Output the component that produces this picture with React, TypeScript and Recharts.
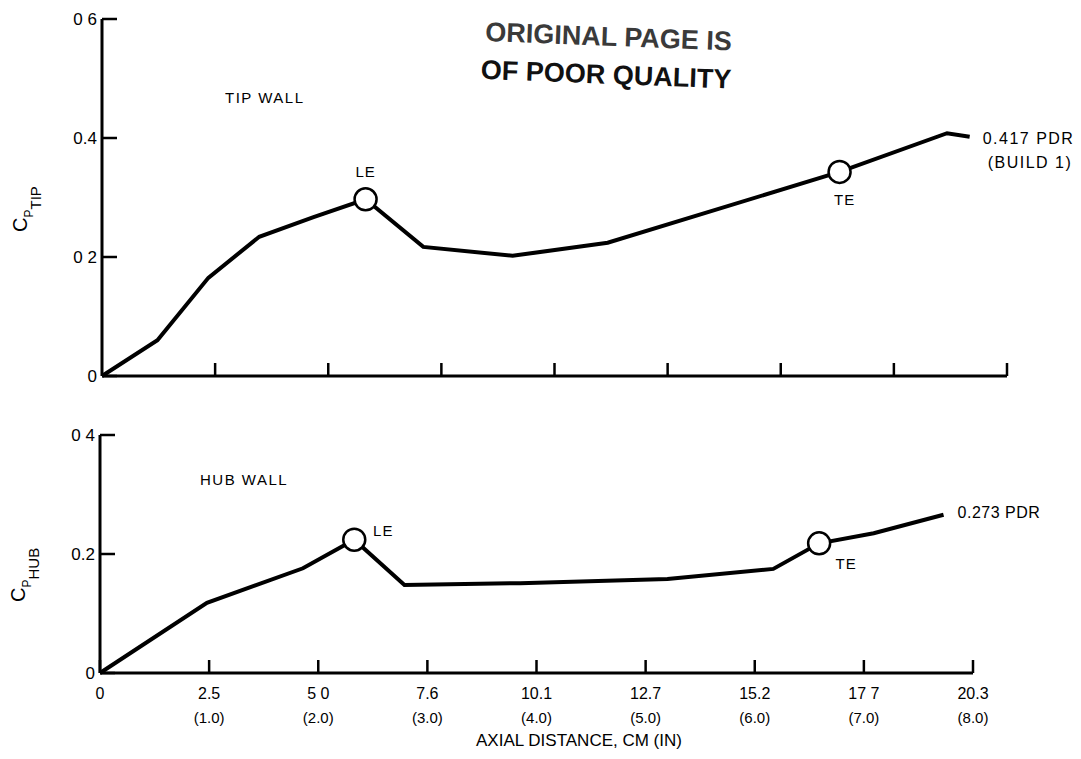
import React from 'react';
import { LineChart, Line, XAxis, YAxis, Customized } from 'recharts';

// axial station (in) and static pressure rise coefficient, tip wall
const TIP_X = [0, 0.49, 0.94, 1.39, 1.87, 2.33, 2.84, 3.63, 4.47, 6.52, 7.47, 7.67];
const TIP_CP = [0, 0.06, 0.165, 0.234, 0.267, 0.297, 0.217, 0.202, 0.224, 0.343, 0.408, 0.402];
const TIP_MARKS = ['', '', '', '', '', 'LE', '', '', '', 'TE', '', ''];

// hub wall
const HUB_X = [0, 0.98, 1.86, 2.33, 2.79, 3.85, 5.2, 6.17, 6.59, 7.09, 7.73];
const HUB_CP = [0, 0.118, 0.176, 0.224, 0.148, 0.151, 0.158, 0.175, 0.218, 0.235, 0.266];
const HUB_MARKS = ['', '', '', 'LE', '', '', '', '', 'TE', '', ''];

const X_TICKS = [0, 1, 2, 3, 4, 5, 6, 7, 8];
const CM_LABELS = ['0', '2.5', '5 0', '7.6', '10.1', '12.7', '15.2', '17 7', '20.3'];
const IN_LABELS = ['', '(1.0)', '(2.0)', '(3.0)', '(4.0)', '(5.0)', '(6.0)', '(7.0)', '(8.0)'];

const TIP_Y_TICKS = [0, 0.2, 0.4, 0.6];
const TIP_Y_LABELS = ['0', '0 2', '0.4', '0 6'];
const HUB_Y_TICKS = [0, 0.2, 0.4];
const HUB_Y_LABELS = ['0', '0.2', '0 4'];

const TIP_END = ['0.417 PDR', '(BUILD 1)'];
const HUB_END = ['0.273 PDR'];

const FONT = '"Liberation Sans", Arial, Helvetica, sans-serif';

// plot frames (px inside each svg)
const TIP_FRAME = { left: 102, top: 19, bottom: 376, right: 1007 };
const HUB_FRAME = { left: 100, top: 35, bottom: 273, right: 973 };

const tipData = TIP_X.map((x, i) => ({ x, cp: TIP_CP[i], mark: TIP_MARKS[i] }));
const hubData = HUB_X.map((x, i) => ({ x, cp: HUB_CP[i], mark: HUB_MARKS[i] }));

type Offsets = Record<string, [number, number]>;

// open circles at LE / TE plus the PDR note at the end of each curve
const makeDot = (offsets: Offsets, endLines: string[], endPos: [number, number][], last: number, spacing: number) =>
  (props: any) => {
    const { cx, cy, index, payload } = props;
    const parts: React.ReactNode[] = [];
    if (payload.mark) {
      const [dx, dy] = offsets[payload.mark];
      parts.push(<circle key="c" cx={cx} cy={cy} r={11} fill="#fff" stroke="#000" strokeWidth={2.5} />);
      parts.push(
        <text key="t" x={cx + dx} y={cy + dy} textAnchor="middle" dominantBaseline="central"
          fontFamily={FONT} fontSize={15} letterSpacing={1} fill="#000">
          {payload.mark}
        </text>
      );
    }
    if (index === last) {
      endLines.forEach((line, i) => {
        parts.push(
          <text key={`e${i}`} x={cx + endPos[i][0]} y={cy + endPos[i][1]} dominantBaseline="central"
            fontFamily={FONT} fontSize={16} letterSpacing={spacing} fill="#000" style={{ whiteSpace: 'pre' }}>
            {line}
          </text>
        );
      });
    }
    return <g key={`dot-${index}`}>{parts}</g>;
  };

const tipDot = makeDot({ LE: [0, -28], TE: [5, 28] }, TIP_END, [[13, 2], [18, 26]], TIP_X.length - 1, 1.5);
const hubDot = makeDot({ LE: [29, -9], TE: [27, 20] }, HUB_END, [[14, -2]], HUB_X.length - 1, 0.5);

// ticks point into the plot; labels sit outside the frame
const makeYTick = (ticks: number[], labels: string[], axisX: number) => (props: any) => {
  const { y, payload } = props;
  const i = ticks.indexOf(payload.value);
  return (
    <g>
      <line x1={axisX} y1={y} x2={axisX + 15} y2={y} stroke="#000" strokeWidth={2.5} />
      <text x={axisX - 5} y={y} textAnchor="end" dominantBaseline="central" fontFamily={FONT} fontSize={17} fill="#000">
        {labels[i]}
      </text>
    </g>
  );
};

const TopXTick = (props: any) => {
  const { x } = props;
  const y = TIP_FRAME.bottom;
  return <line x1={x} y1={y} x2={x} y2={y - 13} stroke="#000" strokeWidth={2.5} />;
};

// two-line tick label: cm on top, inches in brackets below
const DistanceTick = (props: any) => {
  const { x, index } = props;
  const y = HUB_FRAME.bottom;
  return (
    <g>
      <line x1={x} y1={y} x2={x} y2={y - 13} stroke="#000" strokeWidth={2.5} />
      <text x={x} y={y + 20} textAnchor="middle" dominantBaseline="central" fontFamily={FONT} fontSize={16} fill="#000">
        {CM_LABELS[index]}
      </text>
      <text x={x} y={y + 44} textAnchor="middle" dominantBaseline="central" fontFamily={FONT} fontSize={15} fill="#000">
        {IN_LABELS[index]}
      </text>
    </g>
  );
};

const CpTitle = ({ x, y, sub }: { x: number; y: number; sub: string }) => (
  <text transform={`translate(${x},${y}) rotate(-90)`} fontFamily={FONT} fill="#000">
    <tspan fontSize={20}>C</tspan>
    <tspan fontSize={12} dy={6}>P</tspan>
    <tspan fontSize={15} dy={8}>{sub}</tspan>
  </text>
);

const TipNotes = () => (
  <g>
    <CpTitle x={27} y={232} sub="TIP" />
    <text x={225} y={97} dominantBaseline="central" fontFamily={FONT} fontSize={15} letterSpacing={1.5} fill="#000">
      TIP WALL
    </text>
    <g transform="rotate(2.2, 485, 43)" fontFamily={FONT} fontWeight="bold" fontSize={27}>
      <text x={485} y={41} fill="#3a3a3a">ORIGINAL PAGE IS</text>
      <text x={482} y={79} fill="#111">OF POOR QUALITY</text>
    </g>
  </g>
);

const HubNotes = () => (
  <g>
    <CpTitle x={25} y={202} sub="HUB" />
    <text x={200} y={79} dominantBaseline="central" fontFamily={FONT} fontSize={15} letterSpacing={1.5} fill="#000">
      HUB WALL
    </text>
    <text x={579} y={340} textAnchor="middle" dominantBaseline="central" fontFamily={FONT} fontSize={17} fill="#000">
      AXIAL DISTANCE, CM (IN)
    </text>
  </g>
);

const axisLine = { stroke: '#000', strokeWidth: 3 };

export default function App() {
  return (
    <div style={{ position: 'absolute', left: 0, top: 0, width: 1081, height: 759, background: '#fff' }}>
      <div style={{ position: 'absolute', left: 0, top: 0 }}>
        <LineChart
          width={1081}
          height={400}
          data={tipData}
          margin={{ top: TIP_FRAME.top, right: 1081 - TIP_FRAME.right, bottom: 0, left: 0 }}
        >
          <XAxis
            type="number"
            dataKey="x"
            domain={[0, 8]}
            ticks={X_TICKS.slice(1)}
            height={400 - TIP_FRAME.bottom}
            axisLine={axisLine}
            tickLine={false}
            tick={TopXTick}
          />
          <YAxis
            type="number"
            domain={[0, 0.6]}
            ticks={TIP_Y_TICKS}
            width={TIP_FRAME.left}
            axisLine={axisLine}
            tickLine={false}
            tick={makeYTick(TIP_Y_TICKS, TIP_Y_LABELS, TIP_FRAME.left)}
          />
          <Line
            type="linear"
            dataKey="cp"
            stroke="#000"
            strokeWidth={4}
            dot={tipDot}
            activeDot={false}
            isAnimationActive={false}
          />
          <Customized component={TipNotes} />
        </LineChart>
      </div>
      <div style={{ position: 'absolute', left: 0, top: 400 }}>
        <LineChart
          width={1081}
          height={359}
          data={hubData}
          margin={{ top: HUB_FRAME.top, right: 1081 - HUB_FRAME.right, bottom: 0, left: 0 }}
        >
          <XAxis
            type="number"
            dataKey="x"
            domain={[0, 8]}
            ticks={X_TICKS}
            height={359 - HUB_FRAME.bottom}
            axisLine={axisLine}
            tickLine={false}
            tick={DistanceTick}
          />
          <YAxis
            type="number"
            domain={[0, 0.4]}
            ticks={HUB_Y_TICKS}
            width={HUB_FRAME.left}
            axisLine={axisLine}
            tickLine={false}
            tick={makeYTick(HUB_Y_TICKS, HUB_Y_LABELS, HUB_FRAME.left)}
          />
          <Line
            type="linear"
            dataKey="cp"
            stroke="#000"
            strokeWidth={4}
            dot={hubDot}
            activeDot={false}
            isAnimationActive={false}
          />
          <Customized component={HubNotes} />
        </LineChart>
      </div>
    </div>
  );
}
